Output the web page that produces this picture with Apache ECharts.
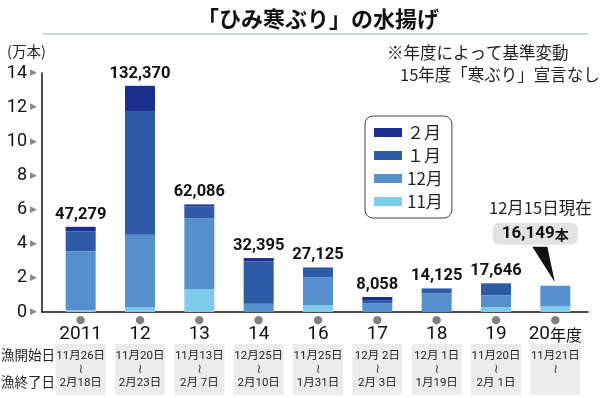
<!DOCTYPE html>
<html><head><meta charset="utf-8">
<script src="https://cdn.jsdelivr.net/npm/echarts@6/dist/echarts.min.js"></script>
<style>html,body{margin:0;padding:0;background:#fff}#c{width:600px;height:398px}</style>
</head><body><div id="c"></div>
<script>
const categories = ['2011','12','13','14','16','17','18','19','20'];
const nov = [0.12, 0.26, 1.35, 0, 0.39, 0, 0, 0.29, 0.33];
const dec = [3.43, 4.27, 4.13, 0.49, 1.63, 0.50, 1.09, 0.69, 1.21];
const jan = [1.17, 7.20, 0.70, 2.47, 0.59, 0.20, 0.29, 0.70, 0];
const feb = [0.27, 1.52, 0.12, 0.20, 0, 0.18, 0, 0, 0];
const totalLabels = ['47,279','132,370','62,086','32,395','27,125','8,058','14,125','17,646',''];
const startDates = ['11月26日','11月20日','11月13日','12月25日','11月25日','12月 2日','12月 1日','11月20日','11月21日'];
const endDates = ['2月18日','2月23日','2月 7日','2月10日','1月31日','2月 3日','1月19日','2月 1日',''];
const seriesNames = ['11月','12月','１月','２月'];
const legendOrder = ['２月','１月','12月','11月'];
const colors = ['#7fcbee','#5590cd','#2d5ba6','#1b308e'];
const yMin = 0, yMax = 14, yStep = 2;
const titleText = '「ひみ寒ぶり」の水揚げ';
const unitText = '(万本)';
const notes = ['※年度によって基準変動','15年度「寒ぶり」宣言なし'];
const rowHeads = ['漁開始日','漁終了日'];
const lastYearSuffix = '年度';
const annoDate = '12月15日現在';
const annoValue = '16,149';
const annoUnit = '本';

const NARROW = "Roboto,'Noto Sans CJK JP',sans-serif";
const CJK = "'Noto Sans CJK JP','Noto Sans',sans-serif";

const chart = echarts.init(document.getElementById('c'));
const segData = [nov, dec, jan, feb];

const baseGraphic = [
  {id:'tline', type:'line', shape:{x1:43,y1:34,x2:588,y2:34}, style:{stroke:'#b7c8d9', lineWidth:1.5}},
  {id:'unit', type:'text', x:7, y:51, style:{text:unitText, fontSize:14.5, fontFamily:CJK, fill:'#222', verticalAlign:'middle'}},
  {id:'n1', type:'text', x:387, y:53, style:{text:notes[0], fontSize:16.5, fontFamily:CJK, fill:'#222', verticalAlign:'middle'}},
  {id:'n2', type:'text', x:400, y:75, style:{text:notes[1], fontSize:16.5, fontFamily:CJK, fill:'#222', verticalAlign:'middle'}},
  {id:'r1', type:'text', x:1, y:355, style:{text:rowHeads[0], fontSize:13.5, fontFamily:CJK, fill:'#222', verticalAlign:'middle'}},
  {id:'r2', type:'text', x:1, y:382, style:{text:rowHeads[1], fontSize:13.5, fontFamily:CJK, fill:'#222', verticalAlign:'middle'}}
];

const series = seriesNames.map((n, k) => ({
  name: n, type: 'bar', stack: 'a', barWidth: 30, xAxisIndex: 0, yAxisIndex: 0,
  itemStyle: {color: colors[k]}, data: segData[k]
}));
series.push({
  name: 'total', type: 'bar', stack: 'a', barWidth: 30, xAxisIndex: 0, yAxisIndex: 0,
  itemStyle: {color: 'rgba(0,0,0,0)'},
  data: categories.map(() => 0),
  label: {show: true, position: 'top', distance: 4,
    formatter: p => totalLabels[p.dataIndex],
    fontFamily: NARROW, fontWeight: 'bold', fontSize: 16.5, color: '#111'}
});

chart.setOption({
  animation: false,
  title: {text: titleText, left: 192, top: 3,
    textStyle: {fontSize: 22, fontWeight: 'bold', color: '#111', fontFamily: CJK}},
  legend: {
    data: legendOrder, orient: 'vertical', left: 365, top: 116,
    itemWidth: 28, itemHeight: 9, itemGap: 4, icon: 'rect',
    padding: [7, 9, 7, 9], borderColor: '#444', borderWidth: 1, borderRadius: 8,
    backgroundColor: '#fff',
    textStyle: {fontSize: 17, lineHeight: 19, fontFamily: CJK, color: '#222'}
  },
  grid: [
    {left: 51, right: 15, top: 73, bottom: 86},
    {left: 42, right: 12, top: 73, bottom: 86}
  ],
  xAxis: [
    {type: 'category', data: categories, gridIndex: 0,
      axisLine: {show: false}, axisTick: {show: false},
      axisLabel: {interval: 0, margin: 2,
        formatter: (v, i) => i === categories.length - 1
          ? '{d|●}\n{y|' + v + '}{s|' + lastYearSuffix + '}'
          : '{d|●}\n{y|' + v + '}',
        rich: {
          d: {fontSize: 11, lineHeight: 12, color: '#808080', fontFamily: 'DejaVu Sans'},
          y: {fontSize: 19, lineHeight: 17, color: '#111', fontFamily: NARROW},
          s: {fontSize: 16, lineHeight: 17, color: '#111', fontFamily: CJK}
        }}},
    {type: 'category', data: categories, gridIndex: 0, position: 'bottom',
      axisLine: {show: false}, axisTick: {show: false},
      axisLabel: {interval: 0, margin: 32,
        formatter: (v, i) => '{a|' + startDates[i] + '}\n{w|≀}\n{a|' + (endDates[i] || '　') + '}',
        backgroundColor: '#ececec', width: 50, padding: [5, 0, 5, 0],
        align: 'center',
        rich: {
          a: {fontSize: 11.5, lineHeight: 14, color: '#222', fontFamily: NARROW},
          w: {fontSize: 13, lineHeight: 13, color: '#444', fontFamily: 'DejaVu Sans'}
        }}},
    {type: 'value', gridIndex: 1, min: 0, max: 1,
      axisLine: {show: true, onZero: false, lineStyle: {color: '#111', width: 1.5}},
      axisTick: {show: false}, axisLabel: {show: false}, splitLine: {show: false}}
  ],
  yAxis: [
    {type: 'value', gridIndex: 0, min: yMin, max: yMax, interval: yStep, offset: 9,
      axisLine: {show: true, lineStyle: {color: '#111', width: 1.5}},
      axisTick: {show: false}, splitLine: {show: false},
      axisLabel: {margin: 5,
        formatter: v => '{n|' + v + '}{t|▶}',
        rich: {
          n: {fontSize: 18, fontFamily: NARROW, color: '#111', padding: [0, 3, 0, 0]},
          t: {fontSize: 9, color: '#888', fontFamily: 'DejaVu Sans'}
        }}},
    {type: 'value', gridIndex: 1, show: false}
  ],
  series: series,
  graphic: baseGraphic
});

const last = categories.length - 1;
const lastTotal = nov[last] + dec[last] + jan[last] + feb[last];
const p = chart.convertToPixel({xAxisIndex: 0, yAxisIndex: 0}, [last, lastTotal]);
const px = p[0], py = p[1];
chart.setOption({
  graphic: baseGraphic.concat([
    {id: 'ptr', type: 'polygon',
      shape: {points: [[px - 23, py - 39], [px - 8, py - 39], [px - 0.5, py - 3.5]]},
      style: {fill: '#111'}},
    {id: 'abox', type: 'text', x: px - 20, y: py - 52,
      style: {text: '{b|' + annoValue + '}{c|' + annoUnit + '}',
        align: 'center', verticalAlign: 'middle',
        backgroundColor: '#e3e3e3', borderRadius: 6, padding: [3, 9, 2, 9],
        rich: {
          b: {fontSize: 17, fontWeight: 'bold', fontFamily: NARROW, fill: '#111'},
          c: {fontSize: 14, fontWeight: 'bold', fontFamily: CJK, fill: '#111'}
        }}},
    {id: 'adate', type: 'text', x: px - 15, y: py - 78,
      style: {text: annoDate, align: 'center', verticalAlign: 'middle',
        fontSize: 16.5, fontFamily: CJK, fill: '#222'}}
  ])
});
</script></body></html>
